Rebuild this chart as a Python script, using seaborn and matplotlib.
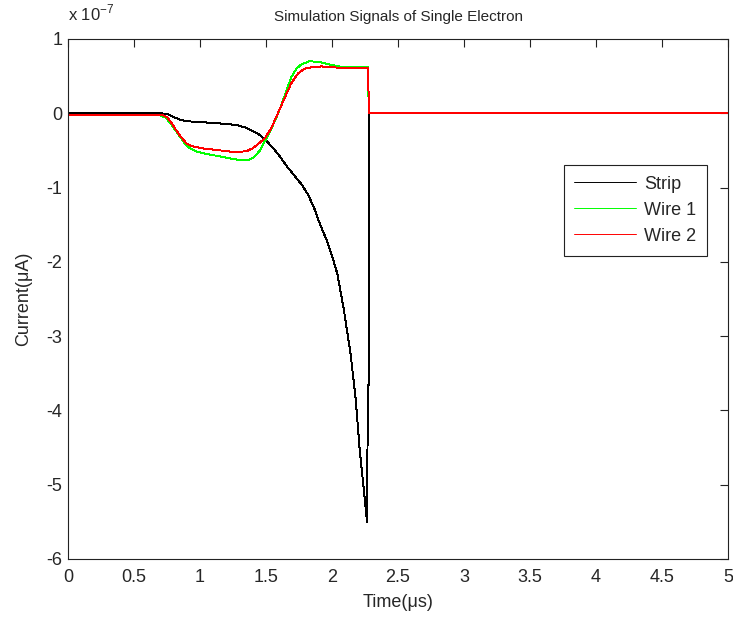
import numpy as np
import pandas as pd
import matplotlib
matplotlib.use("Agg")
import matplotlib.pyplot as plt
import seaborn as sns

# values in units of 1e-7 (uA), time in us
strip_t = [0, 0.70, 0.75, 0.80, 0.85, 0.92, 1.00, 1.10, 1.20, 1.28, 1.34, 1.40, 1.45,
           1.49, 1.55, 1.60, 1.66, 1.72, 1.77, 1.82, 1.87, 1.91, 1.96, 2.00, 2.04,
           2.09, 2.14, 2.18, 2.21, 2.24, 2.265, 2.272, 2.28, 2.28, 5.0]
strip_v = [0, 0, -0.01, -0.05, -0.09, -0.11, -0.12, -0.13, -0.145, -0.16, -0.19, -0.24, -0.29,
           -0.35, -0.46, -0.57, -0.72, -0.85, -0.96, -1.10, -1.30, -1.50, -1.71, -1.92, -2.16,
           -2.65, -3.23, -3.86, -4.54, -5.05, -5.50, -3.66, -3.66, 0, 0]

wire1_t = [0, 0.70, 0.74, 0.77, 0.81, 0.85, 0.89, 0.93, 0.98, 1.05, 1.15, 1.25, 1.32,
           1.37, 1.41, 1.45, 1.49, 1.53, 1.57, 1.61, 1.65, 1.69, 1.73, 1.77, 1.83,
           1.90, 1.97, 2.05, 2.15, 2.27, 2.28, 5.0]
wire1_v = [-0.03, -0.03, -0.06, -0.12, -0.22, -0.32, -0.42, -0.48, -0.52, -0.55, -0.58, -0.615, -0.635,
           -0.625, -0.59, -0.51, -0.38, -0.25, -0.09, 0.08, 0.28, 0.48, 0.60, 0.66, 0.70,
           0.69, 0.66, 0.63, 0.62, 0.62, 0, 0]

wire2_t = [0, 0.72, 0.75, 0.78, 0.82, 0.86, 0.90, 0.95, 1.03, 1.15, 1.25, 1.31, 1.36,
           1.40, 1.43, 1.49, 1.54, 1.59, 1.64, 1.69, 1.74, 1.79, 1.85, 1.92, 2.07,
           2.27, 2.275, 2.28, 5.0]
wire2_v = [-0.03, -0.03, -0.05, -0.12, -0.23, -0.33, -0.41, -0.45, -0.475, -0.50, -0.52, -0.52, -0.505,
           -0.47, -0.43, -0.34, -0.20, 0.0, 0.20, 0.40, 0.53, 0.60, 0.62, 0.63, 0.61,
           0.61, 0.41, 0, 0]

x_ticks = [0, 0.5, 1, 1.5, 2, 2.5, 3, 3.5, 4, 4.5, 5]
y_ticks = [-6, -5, -4, -3, -2, -1, 0, 1]

df = pd.concat([
    pd.DataFrame({"t": strip_t, "v": strip_v, "sig": "Strip"}),
    pd.DataFrame({"t": wire1_t, "v": wire1_v, "sig": "Wire 1"}),
    pd.DataFrame({"t": wire2_t, "v": wire2_v, "sig": "Wire 2"}),
])

sns.set_style("white")
plt.rcParams["font.family"] = ["Liberation Sans", "DejaVu Sans"]
fs = 13

fig = plt.figure(figsize=(7.33, 6.18), dpi=100)
ax = fig.add_axes([0.0928, 0.0955, 0.9004, 0.8415])

sns.lineplot(data=df, x="t", y="v", hue="sig",
             palette={"Strip": "#000000", "Wire 1": "#00ff00", "Wire 2": "#ff0000"},
             estimator=None, sort=False, linewidth=0.7, antialiased=False, ax=ax)

ax.set_xlim(0, 5)
ax.set_ylim(-6, 1)
ax.set_xticks(x_ticks)
ax.set_xticklabels([f"{v:g}" for v in x_ticks])
ax.set_yticks(y_ticks)
ax.set_yticklabels([f"{v:g}" for v in y_ticks])
ax.tick_params(direction="in", length=5.5, width=0.8, top=True, right=True,
               labelsize=fs, color="#222222")
ax.tick_params(axis="x", pad=7)
ax.tick_params(axis="y", pad=4)
for s in ax.spines.values():
    s.set_color("#222222")
    s.set_linewidth(0.8)

ax.set_title("Simulation Signals of Single Electron", fontsize=11, pad=13)
ax.set_xlabel("Time(\u03bcs)", fontsize=fs, labelpad=6)
ax.set_ylabel("Current(\u03bcA)", fontsize=fs, labelpad=10)
ax.text(0.0, 1.03, "x 10$^{\\mathregular{-7}}$", transform=ax.transAxes, fontsize=12,
        ha="left", va="bottom")

leg = ax.legend(loc="upper right", bbox_to_anchor=(0.968, 0.758), fontsize=fs,
                frameon=True, fancybox=False, framealpha=1, edgecolor="#222222",
                handlelength=3.4, borderpad=0.6, labelspacing=0.5, handletextpad=0.45,
                borderaxespad=0)
leg.get_frame().set_linewidth(0.8)
for line in leg.get_lines():
    line.set_linewidth(0.7)

fig.savefig("out.png", dpi=100, facecolor="white")
